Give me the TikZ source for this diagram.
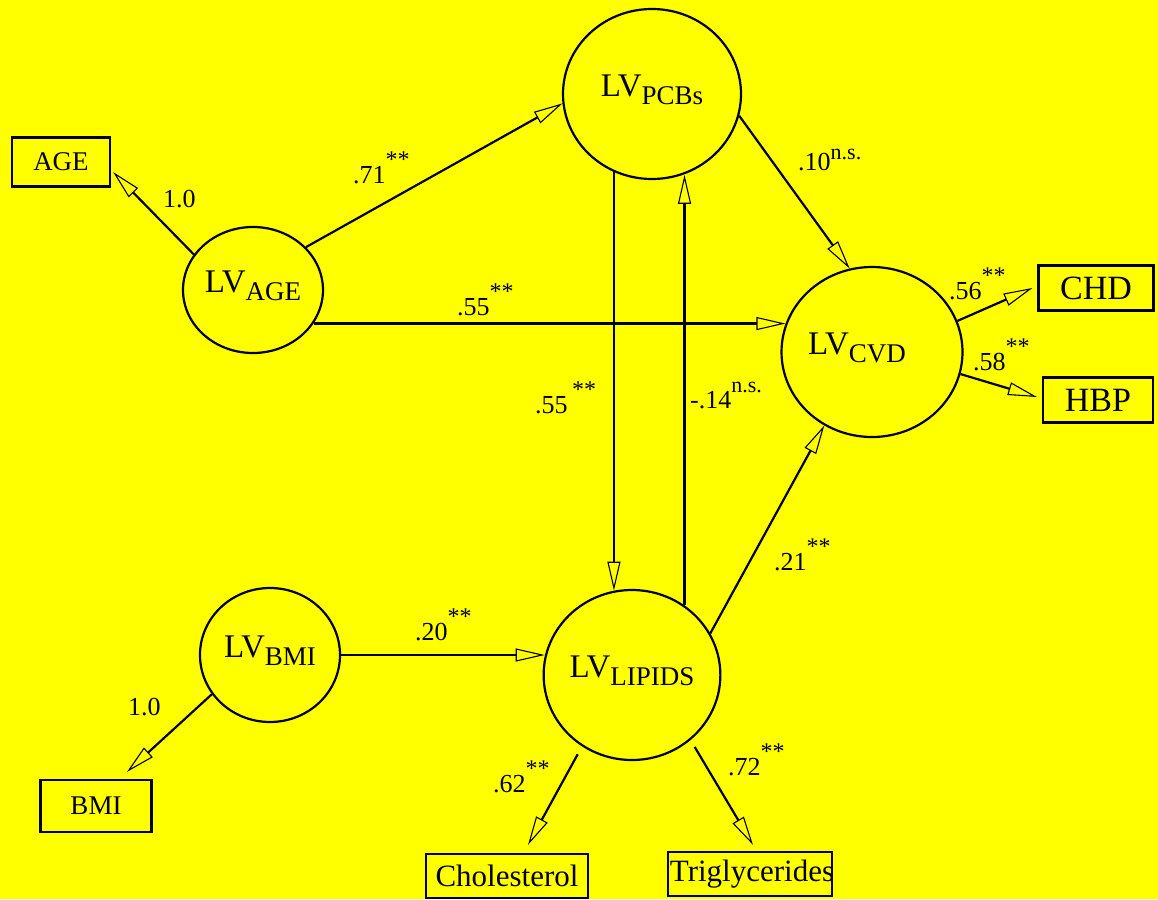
\documentclass[tikz,border=0pt]{standalone}
\usepackage{fontspec}
\setmainfont{Liberation Serif}
\usetikzlibrary{arrows.meta}
\usetikzlibrary{shapes.geometric}
\definecolor{semyellow}{RGB}{255,255,0}
\newcommand{\lv}[1]{LV\raisebox{-8pt}{\fontsize{27}{27}\selectfont #1}}
\newcommand{\stars}[1][16pt]{\raisebox{#1}{\fontsize{24}{24}\selectfont **}}
\newcommand{\nsig}[1]{\raisebox{#1}{\fontsize{22}{22}\selectfont n.s.}}

\tikzset{
  latent/.style={ellipse, draw, line width=2.2pt, inner sep=0pt, text height=22pt, text depth=18pt, font=\fontsize{33}{33}\selectfont},
  observed/.style={rectangle, draw, line width=2.2pt, inner sep=0pt},
  effect/.style={line width=2.2pt, -{Triangle[length=29pt,width=13pt,fill=semyellow,line width=1.1pt]}},
  coef/.style={anchor=base west, inner sep=0pt, font=\fontsize{26}{26}\selectfont}
}

\begin{document}
\begin{tikzpicture}[x=1pt,y=-1pt]
\fill[semyellow] (0,0) rectangle (1158,899);
\useasboundingbox (0,0) rectangle (1158,899);

\node[latent, minimum width=178, minimum height=170] (lvpcbs) at (652,94) {\lv{PCBs}};
\node[latent, minimum width=140, minimum height=126] (lvage) at (253,290) {\lv{AGE}};
\node[latent, minimum width=178, minimum height=170] (lvcvd) at (872,352) {\lv{CVD}\hspace*{30pt}};
\node[latent, minimum width=176, minimum height=170] (lvlipids) at (632,675) {\lv{LIPIDS}};
\node[latent, minimum width=140, minimum height=134] (lvbmi) at (270,655) {\lv{BMI}};

\node[observed, minimum width=98, minimum height=49, font=\fontsize{27}{27}\selectfont] (agebox) at (61,162) {AGE};
\node[observed, minimum width=115, minimum height=45, font=\fontsize{34}{34}\selectfont] (chd) at (1096,288) {CHD};
\node[observed, minimum width=110, minimum height=45, font=\fontsize{34}{34}\selectfont] (hbp) at (1098,400) {HBP};
\node[observed, minimum width=111, minimum height=52, font=\fontsize{27}{27}\selectfont] (bmibox) at (96,806) {BMI};
\node[observed, minimum width=162, minimum height=44, font=\fontsize{31}{31}\selectfont] (chol) at (507,876) {Cholesterol};
\node[observed, minimum width=163, minimum height=44, inner xsep=-2pt, font=\fontsize{31}{31}\selectfont] (trig) at (750,874) {\hspace*{4pt}Triglycerides};

\draw[effect] (lvage.149) -- ([shift={(2,10)}]agebox.east);
\draw[effect] (lvage.39) -- (lvpcbs.186);
\draw[effect] (lvage.-29) -- (lvage.-29 -| lvcvd.162);
\draw[effect] (lvpcbs.-14) -- (lvcvd.105);
\draw[effect] (lvpcbs.244) -- (lvpcbs.244 |- lvlipids.102);
\draw[effect] (lvlipids.53) -- (lvlipids.53 |- lvpcbs.-69);
\draw[effect] (lvlipids.28) -- (lvcvd.237);
\draw[effect] (lvbmi.east) -- (lvbmi.east -| lvlipids.168);
\draw[effect] (lvbmi.214) -- ([shift={(31,-7)}]bmibox.north);
\draw[effect, shorten <=9pt] (lvlipids.235) -- ([shift={(21,-8)}]chol.north);
\draw[effect, shorten <=8pt] (lvlipids.-48) -- ([shift={(3,-6)}]trig.north);
\draw[effect] (lvcvd.20) -- ([shift={(-5,0)}]chd.west);
\draw[effect] (lvcvd.-14) -- ([shift={(-5,-3)}]hbp.west);

\node[coef] (c1) at (163,207) {1.0};
\node[coef] (c2) at (353,183) {.71\stars};
\node[coef] (c3) at (457,315) {.55\stars};
\node[coef] (c4) at (798,170) {.10\nsig{11pt}};
\node[coef] (c5) at (535,413) {.55\,\stars};
\node[coef] (c6) at (690,408) {-.14\nsig{16pt}};
\node[coef] (c7) at (949,299) {.56\stars};
\node[coef] (c8) at (973,370) {.58\stars};
\node[coef] (c9) at (774,570) {.21\stars};
\node[coef] (c10) at (415,640) {.20\stars};
\node[coef] (c11) at (128,715) {1.0};
\node[coef] (c12) at (493,792) {.62\stars};
\node[coef] (c13) at (728,775) {.72\stars};

\end{tikzpicture}
\end{document}
